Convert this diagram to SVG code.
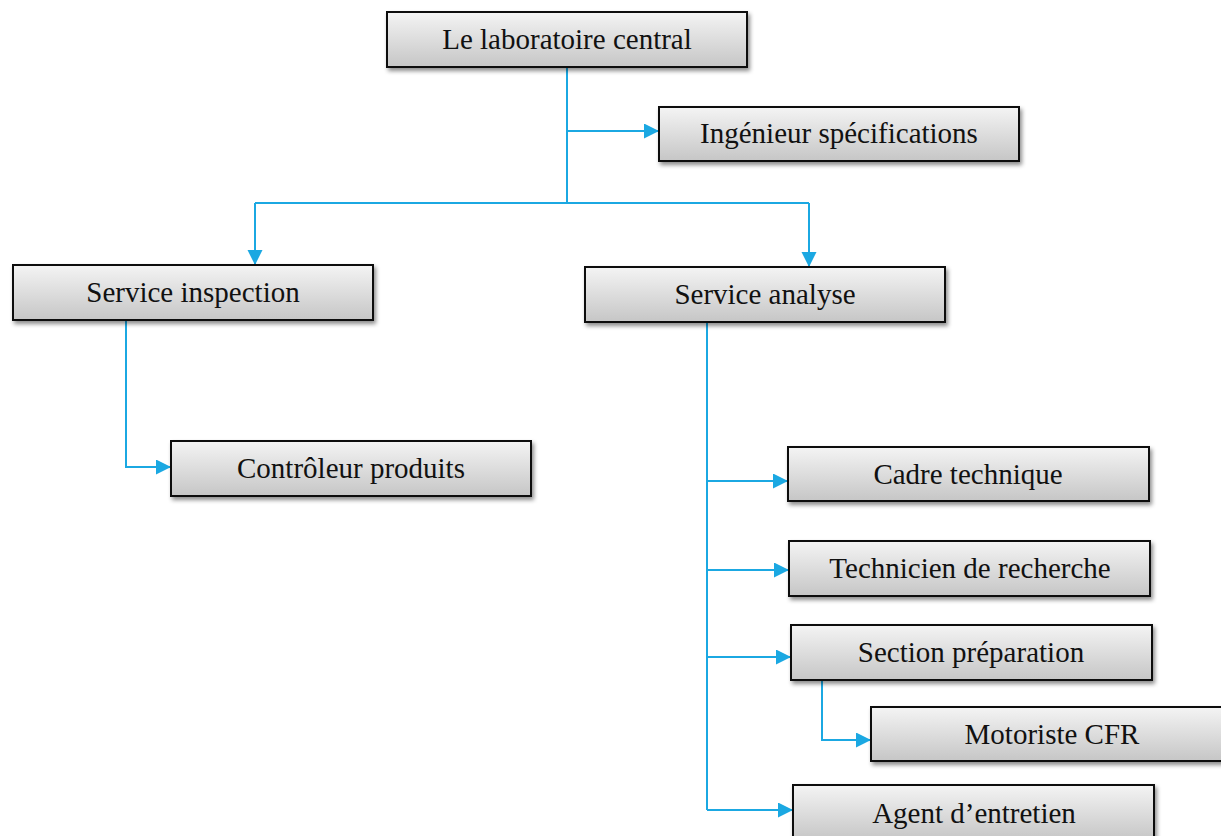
<svg xmlns="http://www.w3.org/2000/svg" width="1221" height="836" viewBox="0 0 1221 836">
  <defs>
    <linearGradient id="boxFill" x1="0" y1="0" x2="0" y2="1">
      <stop offset="0" stop-color="#f4f4f4"/>
      <stop offset="1" stop-color="#c6c6c6"/>
    </linearGradient>
    <filter id="shadow" x="-10%" y="-30%" width="120%" height="170%">
      <feDropShadow dx="2" dy="3" stdDeviation="2" flood-color="#000" flood-opacity="0.45"/>
    </filter>
    <marker id="arrow" markerUnits="userSpaceOnUse" markerWidth="18" markerHeight="18" refX="15" refY="7.5" orient="auto">
      <path d="M0,0 L15,7.5 L0,15 z" fill="#1ba8e2"/>
    </marker>
    <style>
      .box { fill: url(#boxFill); stroke: #111; stroke-width: 2; filter: url(#shadow); }
      .label { font-family: "Liberation Serif", "Times New Roman", serif; font-size: 29px; fill: #111; text-anchor: middle; }
      .link { fill: none; stroke: #1ba8e2; stroke-width: 2; }
      .link.arr { marker-end: url(#arrow); }
    </style>
  </defs>

  <rect width="1221" height="836" fill="#fff"/>

  <!-- connectors -->
  <g id="connectors">
    <path class="link" d="M567,67 V203"/>
    <path class="link arr" d="M567,131 H659"/>
    <path class="link" d="M255,203 H809"/>
    <path class="link arr" d="M255,203 V265"/>
    <path class="link arr" d="M809,203 V267"/>
    <path class="link arr" d="M126,320 V467 H171"/>
    <path class="link" d="M707,322 V810"/>
    <path class="link arr" d="M707,481 H788"/>
    <path class="link arr" d="M707,570 H789"/>
    <path class="link arr" d="M707,657 H791"/>
    <path class="link arr" d="M707,810 H793"/>
    <path class="link arr" d="M822,680 V740 H871"/>
  </g>

  <!-- nodes -->
  <g id="laboratoire">
    <rect class="box" x="387" y="12" width="360" height="55"/>
    <text class="label" x="567" y="49">Le laboratoire central</text>
  </g>
  <g id="ingenieur">
    <rect class="box" x="659" y="107" width="360" height="54"/>
    <text class="label" x="839" y="143">Ingénieur spécifications</text>
  </g>
  <g id="inspection">
    <rect class="box" x="13" y="265" width="360" height="55"/>
    <text class="label" x="193" y="302">Service inspection</text>
  </g>
  <g id="analyse">
    <rect class="box" x="585" y="267" width="360" height="55"/>
    <text class="label" x="765" y="304">Service analyse</text>
  </g>
  <g id="controleur">
    <rect class="box" x="171" y="441" width="360" height="55"/>
    <text class="label" x="351" y="478">Contrôleur produits</text>
  </g>
  <g id="cadre">
    <rect class="box" x="788" y="447" width="361" height="54"/>
    <text class="label" x="968" y="484">Cadre technique</text>
  </g>
  <g id="technicien">
    <rect class="box" x="789" y="541" width="361" height="55"/>
    <text class="label" x="970" y="578">Technicien de recherche</text>
  </g>
  <g id="preparation">
    <rect class="box" x="791" y="625" width="361" height="55"/>
    <text class="label" x="971" y="662">Section préparation</text>
  </g>
  <g id="motoriste">
    <rect class="box" x="871" y="707" width="362" height="54"/>
    <text class="label" x="1052" y="744">Motoriste CFR</text>
  </g>
  <g id="agent">
    <rect class="box" x="793" y="785" width="361" height="55"/>
    <text class="label" x="974" y="823">Agent d’entretien</text>
  </g>
</svg>
